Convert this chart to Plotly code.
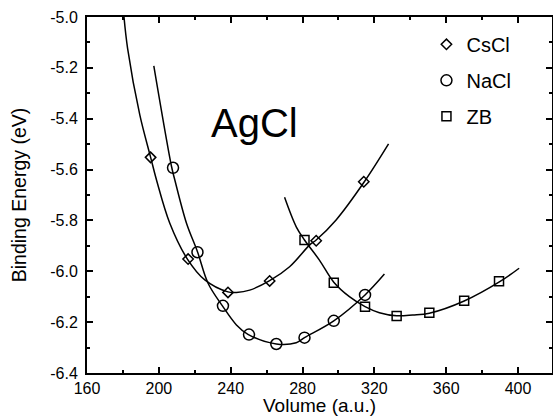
import plotly.graph_objects as go

# ---- data ----
cscl_v = [195.4, 216.3, 238.5, 261.7, 287.6, 314.1]
cscl_e = [-5.552, -5.952, -6.083, -6.038, -5.880, -5.648]

nacl_v = [207.9, 221.5, 235.7, 250.2, 265.4, 281.1, 297.4, 314.8]
nacl_e = [-5.593, -5.925, -6.136, -6.249, -6.286, -6.261, -6.195, -6.093]

zb_v = [281.1, 297.4, 314.8, 332.4, 350.6, 370.0, 389.4]
zb_e = [-5.877, -6.045, -6.139, -6.176, -6.163, -6.116, -6.039]

# fitted curves
cscl_fit_v = [180.6, 182.6, 189.4, 195.4, 198.7, 206.1, 215.9, 225.6, 238.5, 243.2,
              250.6, 261.7, 272.8, 283.9, 287.6, 298.7, 314.4, 327.9]
cscl_fit_e = [-5.000, -5.123, -5.385, -5.551, -5.641, -5.811, -5.952, -6.034, -6.081, -6.083,
              -6.074, -6.037, -5.982, -5.897, -5.877, -5.798, -5.648, -5.499]

nacl_fit_v = [197.2, 207.1, 208.9, 215.4, 221.5, 227.4, 235.4, 243.2, 249.6, 265.4,
              276.5, 281.1, 297.4, 314.8, 325.6]
nacl_fit_e = [-5.192, -5.589, -5.641, -5.811, -5.923, -6.047, -6.136, -6.211, -6.248, -6.286,
              -6.281, -6.261, -6.195, -6.093, -6.011]

zb_fit_v = [270.0, 276.5, 281.1, 289.4, 297.4, 306.1, 314.8, 322.8, 332.4, 341.3,
            350.6, 370.0, 389.8, 400.6]
zb_fit_e = [-5.709, -5.825, -5.877, -5.956, -6.043, -6.100, -6.139, -6.163, -6.175, -6.172,
            -6.165, -6.117, -6.041, -5.988]

x_tickvals = [160, 200, 240, 280, 320, 360, 400]
x_ticktext = ["160", "200", "240", "280", "320", "360", "400"]
y_tickvals = [-5.0, -5.2, -5.4, -5.6, -5.8, -6.0, -6.2, -6.4]
y_ticktext = ["-5.0", "-5.2", "-5.4", "-5.6", "-5.8", "-6.0", "-6.2", "-6.4"]

FONT = "Liberation Sans, Arial, Helvetica, sans-serif"

fig = go.Figure()

for fv, fe in [(cscl_fit_v, cscl_fit_e), (nacl_fit_v, nacl_fit_e), (zb_fit_v, zb_fit_e)]:
    fig.add_trace(go.Scatter(x=fv, y=fe, mode="lines", showlegend=False,
                             line=dict(color="black", width=1.5, shape="spline", smoothing=1.0),
                             hoverinfo="skip"))

series = [
    ("CsCl", cscl_v, cscl_e, "diamond-open", 8),
    ("NaCl", nacl_v, nacl_e, "circle-open", 11),
    ("ZB", zb_v, zb_e, "square-open", 9),
]
for i, (name, v, e, sym, sz) in enumerate(series):
    fig.add_trace(go.Scatter(x=v, y=e, mode="markers", name=name, legendgroup=name,
                             marker=dict(symbol=sym, size=sz, color="black",
                                         line=dict(color="black", width=1.5))))

fig.add_annotation(x=228, y=-5.417, xref="x", yref="y", text="AgCl", showarrow=False,
                   xanchor="left", yanchor="middle",
                   font=dict(family=FONT, size=40, color="black"))

axis_common = dict(showline=True, linecolor="black", linewidth=2, mirror="allticks",
                   ticks="inside", tickcolor="black", tickwidth=1.5, ticklen=6,
                   showgrid=False, zeroline=False, automargin=False,
                   tickfont=dict(family=FONT, size=16, color="black"))

fig.update_xaxes(range=[160, 418.9], tickvals=x_tickvals, ticktext=x_ticktext,
                 minor=dict(ticks="inside", ticklen=3, tickwidth=1.5, tickcolor="black",
                            dtick=20, tick0=160, showgrid=False),
                 title=dict(text="Volume (a.u.)", font=dict(family=FONT, size=19, color="black"),
                            standoff=9),
                 **axis_common)
fig.update_yaxes(range=[-6.4, -5.0], tickvals=y_tickvals, ticktext=y_ticktext,
                 minor=dict(ticks="inside", ticklen=3, tickwidth=1.5, tickcolor="black",
                            dtick=0.1, tick0=-6.4, showgrid=False),
                 title=dict(text="Binding Energy (eV)", font=dict(family=FONT, size=19.5, color="black"),
                            standoff=18),
                 ticklabelstandoff=4,
                 **axis_common)

fig.update_layout(
    width=553, height=416,
    margin=dict(l=87, r=1, t=17, b=43),
    paper_bgcolor="white", plot_bgcolor="white",
    font=dict(family=FONT, color="black"),
    showlegend=True,
    legend=dict(x=0.73, y=0.978, xanchor="left", yanchor="top",
                bgcolor="rgba(0,0,0,0)", borderwidth=0,
                font=dict(family=FONT, size=20, color="black"),
                tracegroupgap=7, traceorder="grouped"),
)

fig.write_html("out.html", config={"displayModeBar": False},
               post_script="document.body.style.margin='0px';")
